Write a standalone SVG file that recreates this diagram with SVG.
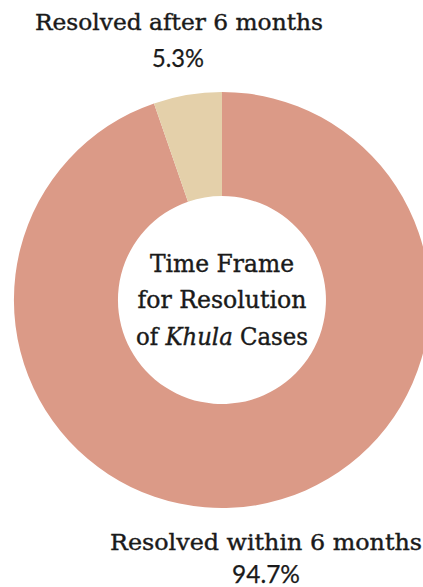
<svg xmlns="http://www.w3.org/2000/svg" width="423" height="587" viewBox="0 0 423 587">
<style>
text{font-family:"DejaVu Serif","Liberation Serif",serif;fill:#1a1a1a;stroke:#1a1a1a;stroke-width:0.4;text-anchor:middle}
.lbl{font-size:22px}
.ctr{font-size:24px}
.pct{font-family:Lato,"Noto Sans",sans-serif;font-size:25px;stroke-width:0.25}
</style>
<rect width="423" height="587" fill="#ffffff"/>
<g id="chart">
<g id="slice-within">
<path d="M222,92 A208,208 0 1 1 154.0,103.4 L188.0,201.7 A104,104 0 1 0 222,196 Z" fill="#DB9A87"/>
</g>
<g id="slice-after">
<path d="M154.0,103.4 A208,208 0 0 1 222,92 L222,196 A104,104 0 0 0 188.0,201.7 Z" fill="#E4D0AA"/>
</g>
</g>
<g id="label-after">
<text class="lbl" x="179" y="30" textLength="288" lengthAdjust="spacingAndGlyphs">Resolved after 6 months</text>
<text class="pct" x="178" y="66.5" textLength="52" lengthAdjust="spacingAndGlyphs">5.3%</text>
</g>
<g id="center-title">
<text class="ctr" x="222" y="272" textLength="144" lengthAdjust="spacingAndGlyphs">Time Frame</text>
<text class="ctr" x="222" y="308" textLength="169" lengthAdjust="spacingAndGlyphs">for Resolution</text>
<text class="ctr" x="222" y="345" textLength="172" lengthAdjust="spacingAndGlyphs">of <tspan font-style="italic">Khula</tspan> Cases</text>
</g>
<g id="label-within">
<text class="lbl" x="266" y="550" textLength="312" lengthAdjust="spacingAndGlyphs">Resolved within 6 months</text>
<text class="pct" x="266" y="582.5" textLength="68" lengthAdjust="spacingAndGlyphs">94.7%</text>
</g>
</svg>
